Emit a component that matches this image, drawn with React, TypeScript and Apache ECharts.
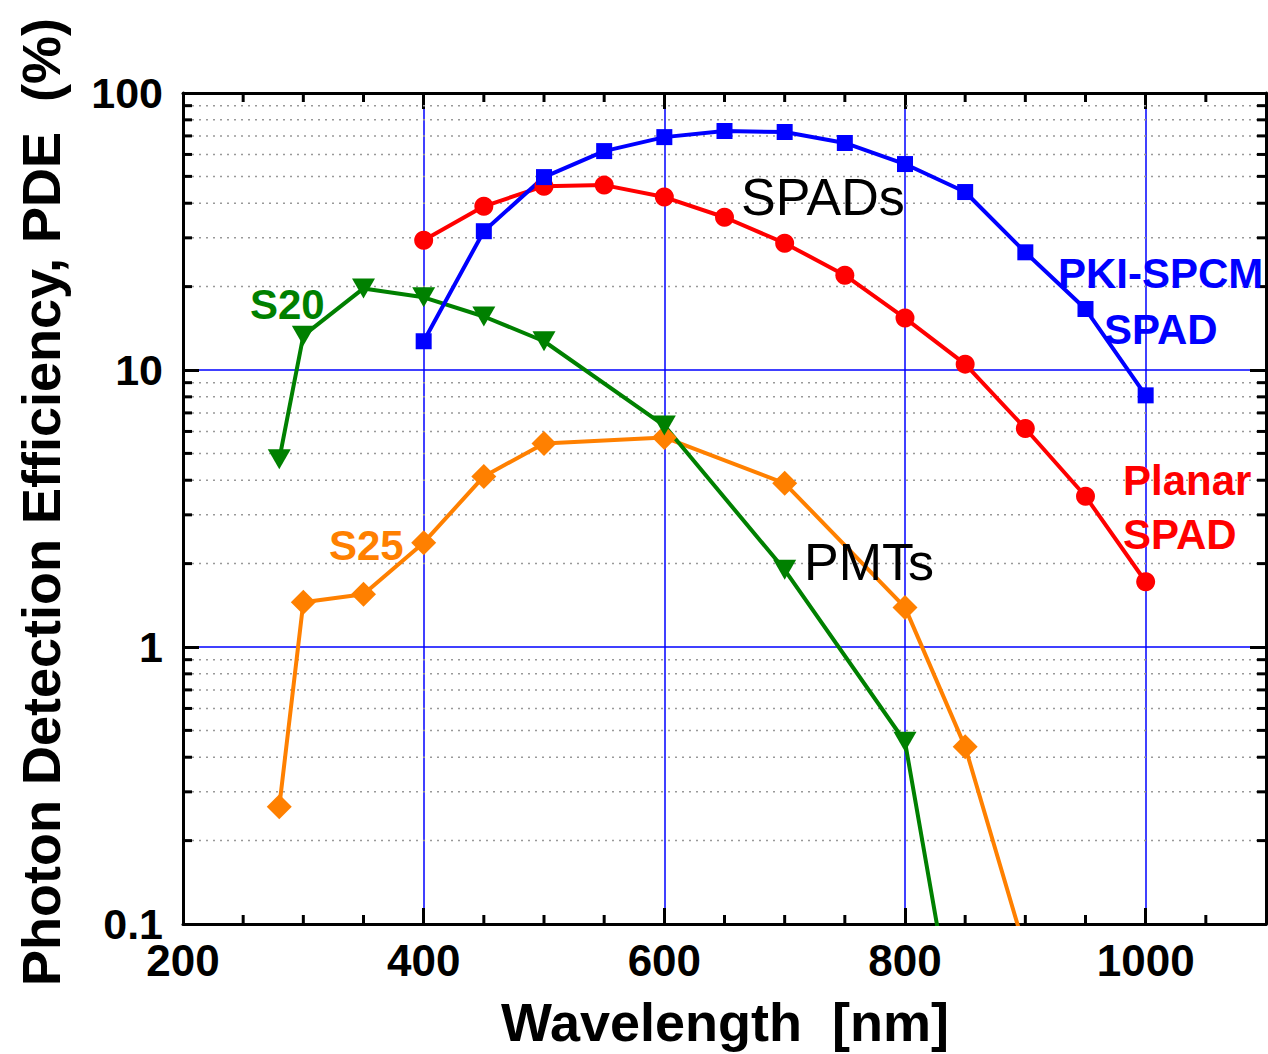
import React, { useEffect, useRef } from "react";
import * as echarts from "echarts";

// ---- data ----
const pkiWavelength = [400, 450, 500, 550, 600, 650, 700, 750, 800, 850, 900, 950, 1000];
const pkiPDE = [12.7, 31.7, 49.7, 61.7, 69.3, 72.9, 72.3, 66, 55.4, 43.9, 26.6, 16.6, 8.1];

const planarWavelength = [400, 450, 500, 550, 600, 650, 700, 750, 800, 850, 900, 950, 1000];
const planarPDE = [29.4, 39, 46.1, 46.5, 42.1, 35.6, 28.7, 22, 15.4, 10.5, 6.15, 3.5, 1.72];

const s20Wavelength = [280, 300, 350, 400, 450, 500, 600, 700, 800, 850];
const s20PDE = [4.76, 13.3, 19.7, 18.3, 15.6, 12.7, 6.3, 1.9, 0.455, 0.026];

const s25Wavelength = [280, 300, 350, 400, 450, 500, 600, 700, 800, 850, 900];
const s25PDE = [0.265, 1.45, 1.55, 2.38, 4.13, 5.43, 5.71, 3.9, 1.39, 0.436, 0.08];

const xMin = 200;
const xMax = 1100;
const xInterval = 200;
const yMin = 0.1;
const yMax = 100;
const yMinorValues = [
  0.2, 0.3, 0.4, 0.5, 0.6, 0.7, 0.8, 0.9,
  2, 3, 4, 5, 6, 7, 8, 9,
  20, 30, 40, 50, 60, 70, 80, 90,
];
const xMinorValues = [250, 300, 350, 450, 500, 550, 650, 700, 750, 850, 900, 950, 1050];

const FONT = '"Liberation Sans", Arial, Helvetica, sans-serif';

const pairs = (xs: number[], ys: number[]) => xs.map((x, i) => [x, ys[i]]);

export default function App() {
  const ref = useRef<HTMLDivElement>(null);

  useEffect(() => {
    if (!ref.current) return;
    const chart = echarts.init(ref.current, null, { renderer: "svg" });

    const axisLineStyle = { color: "#000", width: 3 };
    const majorTick = { show: true, inside: true, length: 16, lineStyle: { color: "#000", width: 3 } };
    const gridBlue = { color: "#0000ff", width: 1.5 };

    const lineSeries = (
      name: string,
      data: number[][],
      color: string,
      symbol: string,
      size: number | number[],
      rotate = 0
    ) => ({
      name,
      type: "line",
      data,
      xAxisIndex: 0,
      yAxisIndex: 0,
      symbol,
      symbolSize: size,
      symbolRotate: rotate,
      showSymbol: true,
      clip: true,
      z: 5,
      lineStyle: { color, width: 4 },
      itemStyle: { color, borderWidth: 0 },
      emphasis: { disabled: true },
    });

    const option: any = {
      animation: false,
      grid: { left: 183, right: 2, top: 93, bottom: 130, containLabel: false },
      xAxis: [
        {
          type: "value",
          min: xMin,
          max: xMax,
          interval: xInterval,
          position: "bottom",
          axisLine: { show: true, onZero: false, lineStyle: axisLineStyle },
          axisTick: majorTick,
          axisLabel: {
            show: true,
            color: "#000",
            fontSize: 44,
            fontWeight: "bold",
            fontFamily: FONT,
            margin: 14,
            showMaxLabel: false,
            formatter: (v: number) => (v % 200 === 0 && v <= 1000 ? String(v) : ""),
          },
          splitLine: { show: true, lineStyle: gridBlue },
        },
        {
          type: "value",
          min: xMin,
          max: xMax,
          interval: xInterval,
          position: "top",
          axisLine: { show: true, onZero: false, lineStyle: axisLineStyle },
          axisTick: majorTick,
          axisLabel: { show: false },
          splitLine: { show: false },
        },
      ],
      yAxis: [
        {
          type: "log",
          logBase: 10,
          min: yMin,
          max: yMax,
          position: "left",
          axisLine: { show: true, onZero: false, lineStyle: axisLineStyle },
          axisTick: majorTick,
          axisLabel: {
            show: true,
            color: "#000",
            fontSize: 43,
            fontWeight: "bold",
            fontFamily: FONT,
            margin: 20,
            formatter: (v: number) => String(+Number(v).toPrecision(3)),
          },
          splitLine: { show: true, lineStyle: gridBlue },
        },
        {
          type: "log",
          logBase: 10,
          min: yMin,
          max: yMax,
          position: "right",
          axisLine: { show: true, onZero: false, lineStyle: axisLineStyle },
          axisTick: majorTick,
          axisLabel: { show: false },
          splitLine: { show: false },
        },
      ],
      series: [
        {
          type: "custom",
          name: "yMinor",
          xAxisIndex: 0,
          yAxisIndex: 0,
          silent: true,
          z: 1,
          clip: false,
          data: yMinorValues.map((v) => [xMin, v]),
          encode: { x: 0, y: 1 },
          renderItem: (params: any, api: any) => {
            const v = api.value(1);
            const p1 = api.coord([xMin, v]);
            const p2 = api.coord([xMax, v]);
            return {
              type: "group",
              children: [
                {
                  type: "line",
                  shape: { x1: p1[0] + 2, y1: p1[1], x2: p2[0] - 2, y2: p2[1] },
                  style: { stroke: "#999999", lineWidth: 1.5, lineDash: [2, 5] },
                },
                {
                  type: "line",
                  shape: { x1: p1[0], y1: p1[1], x2: p1[0] + 9, y2: p1[1] },
                  style: { stroke: "#000", lineWidth: 3 },
                },
                {
                  type: "line",
                  shape: { x1: p2[0] - 9, y1: p2[1], x2: p2[0], y2: p2[1] },
                  style: { stroke: "#000", lineWidth: 3 },
                },
              ],
            };
          },
        },
        {
          type: "custom",
          name: "xMinor",
          xAxisIndex: 0,
          yAxisIndex: 0,
          silent: true,
          z: 1,
          clip: false,
          data: xMinorValues.map((x) => [x, yMin]),
          encode: { x: 0, y: 1 },
          renderItem: (params: any, api: any) => {
            const x = api.value(0);
            const pb = api.coord([x, yMin]);
            const pt = api.coord([x, yMax]);
            return {
              type: "group",
              children: [
                {
                  type: "line",
                  shape: { x1: pb[0], y1: pb[1], x2: pb[0], y2: pb[1] - 9 },
                  style: { stroke: "#000", lineWidth: 3 },
                },
                {
                  type: "line",
                  shape: { x1: pt[0], y1: pt[1], x2: pt[0], y2: pt[1] + 9 },
                  style: { stroke: "#000", lineWidth: 3 },
                },
              ],
            };
          },
        },
        lineSeries("S25", pairs(s25Wavelength, s25PDE), "#ff8000", "diamond", [25, 25]),
        lineSeries("S20", pairs(s20Wavelength, s20PDE), "#008000", "triangle", [23, 20], 180),
        lineSeries("Planar SPAD", pairs(planarWavelength, planarPDE), "#ff0000", "circle", 19),
        lineSeries("PKI-SPCM SPAD", pairs(pkiWavelength, pkiPDE), "#0000ff", "rect", 16),
      ],
      graphic: [
        {
          type: "text",
          x: 41,
          y: 502,
          rotation: Math.PI / 2,
          style: {
            text: "Photon Detection Efficiency, PDE  (%)",
            fill: "#000",
            font: `bold 54px ${FONT}`,
            textAlign: "center",
            textVerticalAlign: "middle",
          },
        },
        {
          type: "text",
          x: 725,
          y: 1022,
          style: {
            text: "Wavelength  [nm]",
            fill: "#000",
            font: `bold 54px ${FONT}`,
            textAlign: "center",
            textVerticalAlign: "middle",
          },
        },
        {
          type: "text",
          x: 741,
          y: 197,
          z: 10,
          style: { text: "SPADs", fill: "#000", font: `52px ${FONT}`, textAlign: "left", textVerticalAlign: "middle" },
        },
        {
          type: "text",
          x: 804,
          y: 562,
          z: 10,
          style: { text: "PMTs", fill: "#000", font: `52px ${FONT}`, textAlign: "left", textVerticalAlign: "middle" },
        },
        {
          type: "text",
          x: 1058,
          y: 273,
          z: 10,
          style: { text: "PKI-SPCM", fill: "#0000ff", font: `bold 42px ${FONT}`, textAlign: "left", textVerticalAlign: "middle" },
        },
        {
          type: "text",
          x: 1104,
          y: 329,
          z: 10,
          style: { text: "SPAD", fill: "#0000ff", font: `bold 42px ${FONT}`, textAlign: "left", textVerticalAlign: "middle" },
        },
        {
          type: "text",
          x: 1123,
          y: 480,
          z: 10,
          style: { text: "Planar", fill: "#ff0000", font: `bold 42px ${FONT}`, textAlign: "left", textVerticalAlign: "middle" },
        },
        {
          type: "text",
          x: 1123,
          y: 534,
          z: 10,
          style: { text: "SPAD", fill: "#ff0000", font: `bold 42px ${FONT}`, textAlign: "left", textVerticalAlign: "middle" },
        },
        {
          type: "text",
          x: 250,
          y: 304,
          z: 10,
          style: { text: "S20", fill: "#008000", font: `bold 42px ${FONT}`, textAlign: "left", textVerticalAlign: "middle" },
        },
        {
          type: "text",
          x: 329,
          y: 545,
          z: 10,
          style: { text: "S25", fill: "#ff8000", font: `bold 42px ${FONT}`, textAlign: "left", textVerticalAlign: "middle" },
        },
      ],
    };

    chart.setOption(option);
    return () => chart.dispose();
  }, []);

  return (
    <div
      ref={ref}
      style={{ position: "fixed", left: 0, top: 0, width: 1268, height: 1054, background: "#fff" }}
    />
  );
}
